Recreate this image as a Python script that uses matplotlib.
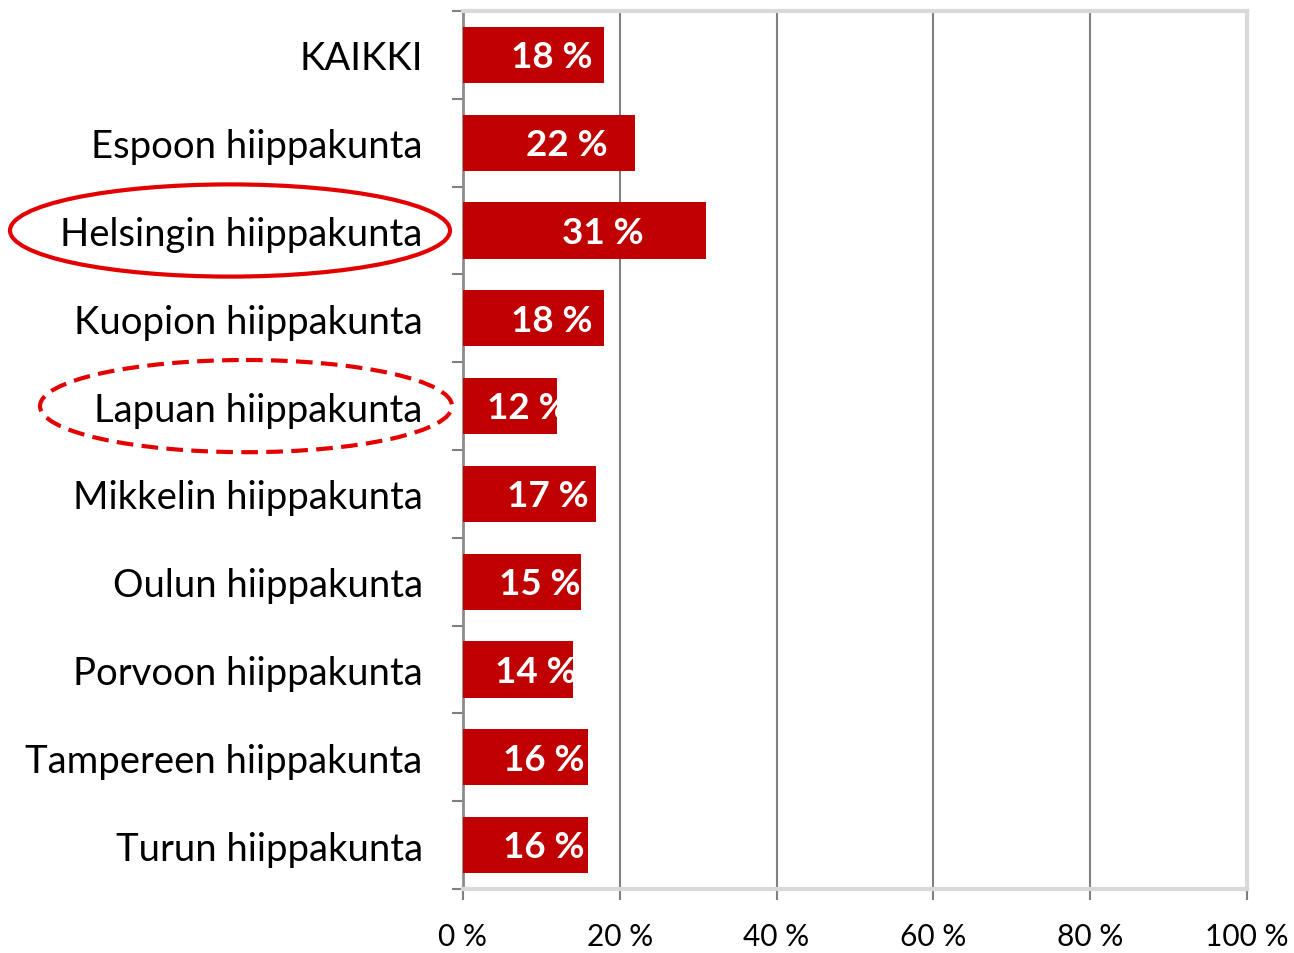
import matplotlib
matplotlib.use("Agg")
import matplotlib.pyplot as plt
from matplotlib.patches import Ellipse
from matplotlib.transforms import blended_transform_factory
from matplotlib.ticker import FixedLocator

categories = ["KAIKKI", "Espoon hiippakunta", "Helsingin hiippakunta", "Kuopion hiippakunta",
              "Lapuan hiippakunta", "Mikkelin hiippakunta", "Oulun hiippakunta",
              "Porvoon hiippakunta", "Tampereen hiippakunta", "Turun hiippakunta"]
values = [18, 22, 31, 18, 12, 17, 15, 14, 16, 16]
xticks = [0, 20, 40, 60, 80, 100]
xtick_labels = ["0 %", "20 %", "40 %", "60 %", "80 %", "100 %"]

plt.rcParams['font.family'] = ['Lato', 'DejaVu Sans']

fig = plt.figure(figsize=(12.94, 9.54), dpi=100)
ax = fig.add_axes([463/1294, 1-890/954, (1247-463)/1294, (890-12)/954])

bar_color = "#C00000"
y = list(range(len(categories)))
ax.barh(y, values, height=0.64, color=bar_color, zorder=3)
for yi, v in zip(y, values):
    ax.text(v/2 + 2.3, yi + 0.02, f"{v} %", ha="center", va="center", color="white",
            fontsize=26.5, fontweight="bold", zorder=4)

ax.set_xlim(0, 100)
ax.set_ylim(len(categories)-0.5, -0.5)
ax.set_yticks(y)
ax.set_yticklabels(categories, fontsize=27.5)
ax.yaxis.set_minor_locator(FixedLocator([i - 0.5 for i in range(len(categories)+1)]))
ax.tick_params(axis="y", which="major", length=0, pad=29)
ax.tick_params(axis="y", which="minor", length=8, width=1.5, color="#808080", direction="out")

ax.set_xticks(xticks)
ax.set_xticklabels(xtick_labels, fontsize=21.5)
ax.tick_params(axis="x", which="major", length=8, width=1.5, color="#808080", direction="out", pad=16)

ax.xaxis.grid(True, color="#808080", linewidth=1.5, zorder=0)
ax.set_axisbelow(True)

for s in ["top", "right", "bottom"]:
    ax.spines[s].set_color("#D9D9D9")
    ax.spines[s].set_linewidth(3)
ax.spines["left"].set_color("#8C8C8C")
ax.spines["left"].set_linewidth(2)

trans = blended_transform_factory(fig.transFigure, ax.transData)
e1 = Ellipse((230/1294, 2), 440/1294, 1.05, transform=trans, fill=False,
             edgecolor="#E30000", linewidth=3, clip_on=False)
e2 = Ellipse((246/1294, 4), 412/1294, 1.05, transform=trans, fill=False,
             edgecolor="#E30000", linewidth=3, linestyle=(0, (4, 2)), clip_on=False)
fig.add_artist(e1)
fig.add_artist(e2)

fig.savefig("out.png", dpi=100)
